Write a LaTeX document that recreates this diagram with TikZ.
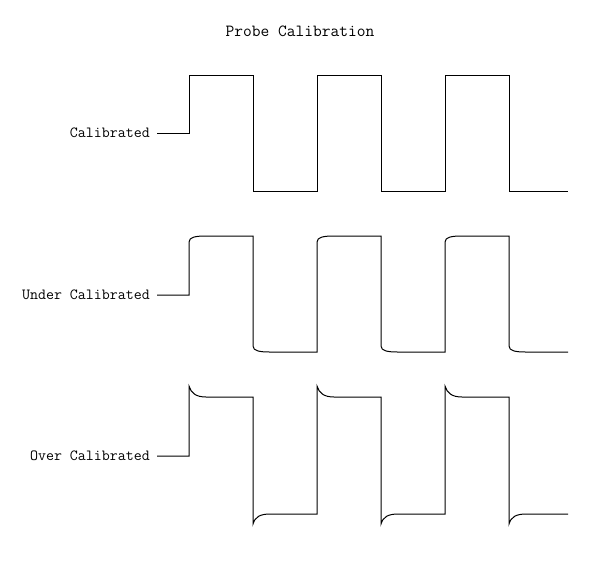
\documentclass[tikz,border=0pt]{standalone}
\usepackage{tikz}
\usetikzlibrary{positioning}

\begin{document}
\begin{tikzpicture}[
    x=1pt, y=-1pt,
    lbl/.style={font=\ttfamily\fontsize{15.5}{17}\selectfont, anchor=east, inner sep=0pt, inner xsep=7pt},
    wave/.style={draw=black, line width=1pt, line join=miter}
]
\useasboundingbox (0,0) rectangle (596,566);

\node[font=\ttfamily\fontsize{17}{19}\selectfont] (title) at (300,31) {Probe Calibration};

\node[lbl] (cal) at (157,133) {Calibrated};
\node[lbl] (under) at (157,295) {Under Calibrated};
\node[lbl] (over) at (157,456) {Over Calibrated};

% ideal square wave
\draw[wave] (cal.east) -- (189,133) -- (189,75)
  \foreach \s in {0,128,256} {
    -- (253+\s,75) -- (253+\s,191)
    \ifnum\s<256 -- (317+\s,191) -- (317+\s,75) -- (381+\s,75) \fi
  } -- (568,191);

% rounded edges
\draw[wave] (under.east) -- (189,295)
  \foreach \s in {0,128,256} {
    -- (189+\s,242) .. controls (189+\s,237) and (196+\s,236) .. (206+\s,236)
    -- (253+\s,236) -- (253+\s,346)
    .. controls (253+\s,351) and (260+\s,352) .. (270+\s,352)
    \ifnum\s<256 -- (317+\s,352) \fi
  } -- (568,352);

% overshoot
\draw[wave] (over.east) -- (189,456)
  \foreach \s in {0,128,256} {
    -- (189+\s,386) .. controls (191+\s,393) and (196+\s,397) .. (206+\s,397)
    -- (253+\s,397) -- (253+\s,524)
    .. controls (255+\s,517) and (260+\s,514) .. (270+\s,514)
    \ifnum\s<256 -- (317+\s,514) \fi
  } -- (568,514);

\end{tikzpicture}
\end{document}
